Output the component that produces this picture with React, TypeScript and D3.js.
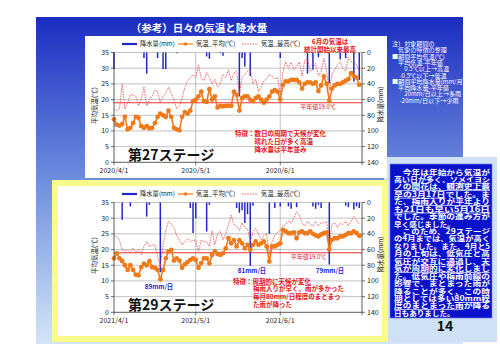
import React from 'react'
import * as d3 from 'd3'

// 第27ステージ 2020/4/1〜6/30 日別値
const meanTemp2020 = [
  13.7, 12, 11.7, 12.2, 14.5, 10.5, 11, 12.5, 14.5, 14.2, 11.5, 11, 11.5, 10.8, 11, 12.5, 14.5, 15.5, 15, 14.5, 16.5, 14.5, 11, 10.5, 10.2, 14.5, 16, 15.5, 16.5, 19.5,
  20, 21, 22.5, 19.5, 19.3, 23.3, 20, 21, 17.5, 18, 17.8, 18, 18, 18, 22.5, 21.5, 16.5, 20.5, 21, 21, 20, 19.5, 20.5, 21, 20, 19, 20, 21, 22.5, 23, 22.5,
  20, 24.7, 25.8, 25.8, 26.3, 26.3, 26.3, 25.5, 23.5, 25, 25.5, 25.5, 25, 25.5, 22.7, 24.5, 27.4, 25, 19.6, 23.5, 24.5, 25, 25, 25.5, 26, 26.5, 28.4, 27.5, 27, 24.7,
]
const maxTemp2020 = [
  17, 16.5, 17, 25, 17, 19, 21.5, 21.5, 21, 18, 20, 24, 18, 20, 21, 23, 22.5, 19, 21, 22, 24, 22, 20, 17, 18, 20.5, 24, 25.8, 27, 28,
  27, 31, 27, 26, 28.6, 27, 25, 26.5, 24, 25, 28, 27, 29.5, 26, 28.5, 29, 21.5, 27, 28, 29, 29.5, 25, 26.5, 22.5, 24, 26, 26.5, 28, 27.5, 26.5, 27,
  21.5, 29, 32, 30, 32, 29.5, 30.5, 32, 27.5, 32.5, 33, 29, 30, 31.5, 27.5, 29, 33, 29, 23, 28, 29.5, 31, 32, 30, 29, 33.5, 32, 32.5, 31, 29,
]
const rainDays2020 = [0, 11, 12, 16, 18, 19, 23, 34, 35, 39, 40, 46, 47, 48, 50, 61, 71, 73, 75, 79, 83, 85, 88, 90]
const rainMm2020 = [21, 7, 27, 7, 21, 21, 1, 5, 8, 1, 4, 56, 7, 18, 30, 7, 27, 22, 6, 39, 9, 7, 37, 35]

// 第29ステージ 2021/4/1〜6/30 日別値
const meanTemp2021 = [
  17.2, 18.8, 17.2, 16.3, 15, 13.5, 15, 13.5, 12, 11.8, 14.4, 15.5, 15, 16.3, 14.4, 14.2, 13.5, 10.5, 13.5, 17.2, 19.4, 19.9, 16.5, 17.2, 16.5, 14.2, 15.3, 16, 16.7, 17.2,
  16.7, 14.2, 15.7, 17.2, 17.2, 15.6, 18.3, 19.4, 18.6, 18.3, 18.8, 20.4, 23.6, 22, 23, 21, 23, 22, 20.4, 21.5, 19.9, 21.5, 22.6, 21.5, 22, 22.6, 21, 16.2, 21, 21, 21.5,
  22, 26.3, 25.8, 25.2, 25.2, 25.5, 23.6, 25.5, 25.8, 25.2, 25.2, 25.8, 25, 24.5, 24.2, 24.8, 25.2, 25.5, 20.1, 23.1, 23.6, 23.6, 24.2, 24.2, 24.7, 25.2, 25.2, 25.8, 25.2, 24.4,
]
const maxTemp2021 = [
  24.5, 24, 23, 20, 19.4, 19.8, 19, 20.5, 19, 20, 18.5, 21, 22.5, 21, 21.5, 21.5, 17.8, 14.6, 21.5, 26, 29, 28, 27, 24.5, 23, 21.5, 22.5, 23.5, 22.5, 23,
  23, 19.5, 23, 22.5, 22.5, 21, 26, 21.5, 25, 26, 23, 25, 27.8, 31, 28, 27.5, 26, 28.5, 27, 26.5, 22.6, 25.5, 26.8, 25, 23, 24.5, 25, 18.3, 22.5, 24.5, 25.5,
  26, 27.4, 28, 29, 28.5, 30, 32.1, 31, 28.5, 27.5, 29, 28, 27.5, 29, 27.5, 28.5, 28.5, 29, 21.5, 28, 28.5, 27, 28.5, 28, 29, 27.5, 29, 30.5, 29.5, 28,
]
const rainDays2021 = [3, 6, 12, 13, 17, 28, 29, 30, 34, 35, 45, 46, 47, 48, 49, 50, 51, 57, 59, 61, 64, 65, 67, 73, 74, 75, 76, 79, 85, 86, 88, 89, 90]
const rainMm2021 = [22, 5, 18, 3, 89, 7, 39, 20, 37, 3, 7, 13, 10, 26, 15, 81, 4, 40, 7, 5, 5, 8, 6, 5, 8, 3, 7, 79, 4, 6, 9, 5, 7]

const normalTemp = 19.0
const tempTicks = [0, 5, 10, 15, 20, 25, 30, 35]
const rainTicks = [0, 20, 40, 60, 80, 100, 120, 140]

const noteLines = [
  '注）対象期間の', '　気象の特徴の整理', '■期間平均気温(℃)', '　平均気温-平年値', '　　0.5℃以上→高温', '　 -0.5℃以下→低温',
  '■期間平均降水量(mm/月)', '　平均降水量-平年値', '　　20mm/日以上→多雨', '　 -20mm/日以下→少雨',
]

const boxLines = [
  [['　今年は年始から気温が', false]],
  [['高い日が多く、', false], ['ソメイヨシ', true]],
  [['ノの開花は、観測史上最', true]],
  [['早の3月17日', true], ['でした。ま', false]],
  [['た、', false], ['梅雨入りが平年より', true]],
  [['も21日も早い5月16日', true]],
  [['でした。季節の進み方が', false]],
  [['早く感じました。', false]],
  [['　このため、29ステージ', false]],
  [['の4月までは、気温が高く', false]],
  [['なりました。また、4月と5', false]],
  [['月の上旬は、低気圧と高', false]],
  [['気圧が交互に通過し、', false], ['天', true]],
  [['気が周期的に変化しまし', true]],
  [['た。低気圧や梅雨前線の', false]],
  [['影響で、まとまった雨が', false]],
  [['降ることが多く、この時', false]],
  [['期としては多い', false], ['80mm程', true]],
  [['度のまとまった雨', true], ['が降る', false]],
  [['日もありました。', false]],
] as [string, boolean][][]

const FONT = "'Noto Sans CJK JP', 'Liberation Sans', sans-serif"
const PL = 114
const PR = 362
const PH = 109.8
const RED = '#e8141c'
const ORANGE = '#f07a1a'
const BLUE = '#2228c8'

function StageChart({ top, start, mean, max, rainDays, rainMm, normalLabelX }) {
  const day = (i: number) => d3.timeDay.offset(start, i)
  const x = d3.scaleTime().domain([start, day(91)]).range([PL, PR])
  const yT = d3.scaleLinear().domain([0, 35]).range([top + PH, top])
  const yR = d3.scaleLinear().domain([0, 140]).range([top, top + PH])
  const months = d3.range(4).map((k) => d3.timeMonth.offset(start, k))
  const tempLine = d3.line<number>().x((_, i) => x(day(i))).y((v) => yT(v))
  const bottom = top + PH
  const ly = top - 8.5

  return (
    <g>
      {tempTicks.slice(1).map((t) => (
        <line key={t} x1={PL} x2={PR} y1={yT(t)} y2={yT(t)} stroke="#a8a8a8" strokeWidth={0.7} />
      ))}
      {months.slice(1, 3).map((m, i) => (
        <line key={i} x1={x(m)} x2={x(m)} y1={top} y2={bottom} stroke="#a8a8a8" strokeWidth={0.7} />
      ))}
      <line x1={PL} x2={PR} y1={yT(normalTemp)} y2={yT(normalTemp)} stroke="#f03030" strokeWidth={1.1} />
      <text x={normalLabelX} y={yT(normalTemp) + 6.5} fontSize={6} fill={RED} textAnchor="middle">
        平年値19.0℃
      </text>

      {rainDays.map((d, i) => (
        <line key={d} x1={x(day(d))} x2={x(day(d))} y1={yR(0)} y2={yR(rainMm[i])} stroke={BLUE} strokeWidth={1.5} />
      ))}

      <path d={tempLine(max) || ''} fill="none" stroke="#f04848" strokeWidth={0.8} strokeDasharray="1.6 1" />
      <path d={tempLine(mean) || ''} fill="none" stroke={ORANGE} strokeWidth={1.6} />
      {mean.map((v, i) => (
        <circle key={i} cx={x(day(i))} cy={yT(v)} r={2.4} fill={ORANGE} />
      ))}

      {/* axes */}
      <line x1={PL} x2={PL} y1={top} y2={bottom} stroke="#333" strokeWidth={0.8} />
      <line x1={PR} x2={PR} y1={top} y2={bottom} stroke="#333" strokeWidth={0.8} />
      <line x1={PL} x2={PR} y1={bottom} y2={bottom} stroke="#333" strokeWidth={0.8} />
      {tempTicks.map((t) => (
        <g key={t}>
          <line x1={PL - 3} x2={PL} y1={yT(t)} y2={yT(t)} stroke="#333" strokeWidth={0.7} />
          <text x={PL - 5} y={yT(t) + 2.4} fontSize={7} textAnchor="end" fill="#222">{t}</text>
        </g>
      ))}
      {rainTicks.map((t) => (
        <g key={t}>
          <line x1={PR} x2={PR + 3} y1={yR(t)} y2={yR(t)} stroke="#333" strokeWidth={0.7} />
          <text x={PR + 5} y={yR(t) + 2.4} fontSize={7} fill="#222">{t}</text>
        </g>
      ))}
      {months.map((m, i) => (
        <line key={i} x1={x(m)} x2={x(m)} y1={bottom} y2={bottom + 3} stroke="#333" strokeWidth={0.7} />
      ))}
      {months.slice(0, 3).map((m, i) => (
        <text key={i} x={x(m)} y={bottom + 11} fontSize={7} textAnchor="middle" fill="#222">
          {d3.timeFormat('%Y/%-m/%-d')(m)}
        </text>
      ))}
      <text transform={`translate(97, ${top + 53}) rotate(-90)`} fontSize={6.5} textAnchor="middle" fill="#222">
        平均気温(℃)
      </text>
      <text transform={`translate(383, ${top + 52}) rotate(-90)`} fontSize={6.5} textAnchor="middle" fill="#222">
        降水量(mm)
      </text>

      {/* legend */}
      <line x1={122} x2={137} y1={ly} y2={ly} stroke={BLUE} strokeWidth={2.2} />
      <text x={140} y={ly + 2.2} fontSize={6.3} fill="#222">降水量(mm)</text>
      <line x1={178} x2={193} y1={ly} y2={ly} stroke={ORANGE} strokeWidth={1.2} />
      <circle cx={185.5} cy={ly} r={1.8} fill={ORANGE} />
      <text x={196} y={ly + 2.2} fontSize={6.3} fill="#222">気温_平均(℃)</text>
      <line x1={242} x2={258} y1={ly} y2={ly} stroke="#f04848" strokeWidth={0.8} strokeDasharray="1.6 1" />
      <text x={261} y={ly + 2.2} fontSize={6.3} fill="#222">気温_最高(℃)</text>
    </g>
  )
}

export default function App() {
  const start2020 = new Date(2020, 3, 1)
  const start2021 = new Date(2021, 3, 1)
  const boxStep = 7.44

  return (
    <svg width={500} height={354} style={{ position: 'absolute', left: 0, top: 0 }} fontFamily={FONT}>
      <defs>
        <linearGradient id="bg" x1="0" y1="0" x2="0" y2="1">
          <stop offset="0" stopColor="#1c2dc2" />
          <stop offset="0.5" stopColor="#6e8ede" />
          <stop offset="1" stopColor="#d4e5f8" />
        </linearGradient>
      </defs>
      <rect x={0} y={0} width={500} height={354} fill="#fff" />
      <rect x={36} y={17} width={427} height={327} fill="url(#bg)" />
      <rect x={384} y={157} width={113} height={185} fill="#cfe1f6" />

      <text x={199} y={31.5} fontSize={10.5} fontWeight="bold" fill="#fff" textAnchor="middle">
        （参考）日々の気温と降水量
      </text>

      {/* 第27ステージ */}
      <rect x={85} y={36} width={302} height={142} fill="#fff" />
      <StageChart top={52.5} start={start2020} mean={meanTemp2020} max={maxTemp2020} rainDays={rainDays2020} rainMm={rainMm2020} normalLabelX={318} />
      <g fill={RED} fontWeight="bold" fontSize={6.5}>
        <text x={330} y={43.5} textAnchor="middle">6月の気温は</text>
        <text x={330} y={51.5} textAnchor="middle">統計開始以来最高</text>
        <text x={235} y={135.5}>特徴：数日の周期で天候が変化</text>
        <text x={254.5} y={143.5}>晴れた日が多く高温</text>
        <text x={254.5} y={151.5}>降水量は平年並み</text>
      </g>
      <text x={128} y={160} fontSize={14} fontWeight="bold" fill="#111">第27ステージ</text>

      {/* 第29ステージ */}
      <rect x={52} y={180} width={336} height={162} fill="#fbfb8c" />
      <rect x={58} y={186} width={324} height={150} fill="#fff" />
      <StageChart top={202.5} start={start2021} mean={meanTemp2021} max={maxTemp2021} rainDays={rainDays2021} rainMm={rainMm2021} normalLabelX={308.5} />
      <g fill="#2020e0" fontWeight="bold" fontSize={6.3} textAnchor="middle">
        <text x={159} y={288.5}>89mm/日</text>
        <text x={252} y={273}>81mm/日</text>
        <text x={330} y={273}>79mm/日</text>
      </g>
      <g fill={RED} fontWeight="bold" fontSize={6.5}>
        <text x={233} y={283.5}>特徴：周期的に天候が変化</text>
        <text x={253} y={291.2}>梅雨入りが早く、雨が多かった</text>
        <text x={253} y={298.9}>毎月80mm/日程度のまとまっ</text>
        <text x={253} y={306.6}>た雨が降った</text>
      </g>
      <text x={128} y={310} fontSize={14} fontWeight="bold" fill="#111">第29ステージ</text>

      {/* 注記 */}
      <g fill="#fff" fontSize={6.1}>
        {noteLines.map((s, i) => (
          <text key={i} x={392} y={46 + i * 6.3} xmlSpace="preserve">{s}</text>
        ))}
      </g>

      {/* 解説ボックス */}
      <rect x={390} y={164} width={102} height={154} fill="#0b12cc" stroke="#6b7ff0" strokeWidth={0.6} />
      <g fill="#fff" fontWeight="bold" fontSize={7.6}>
        {boxLines.map((segs, i) => {
          const full = i !== 7 && i !== 19
          return (
            <text
              key={i}
              transform={`translate(394, ${174.5 + i * boxStep}) scale(1, 0.9)`}
              textLength={full ? 96 : undefined}
              lengthAdjust="spacingAndGlyphs"
              xmlSpace="preserve"
            >
              {segs.map(([s, u], j) => (
                <tspan key={j} style={u ? { textDecoration: 'underline' } : undefined}>{s}</tspan>
              ))}
            </text>
          )
        })}
      </g>
      <text x={445} y={331} fontSize={14} fontWeight="bold" fill="#111" textAnchor="middle">14</text>
    </svg>
  )
}
